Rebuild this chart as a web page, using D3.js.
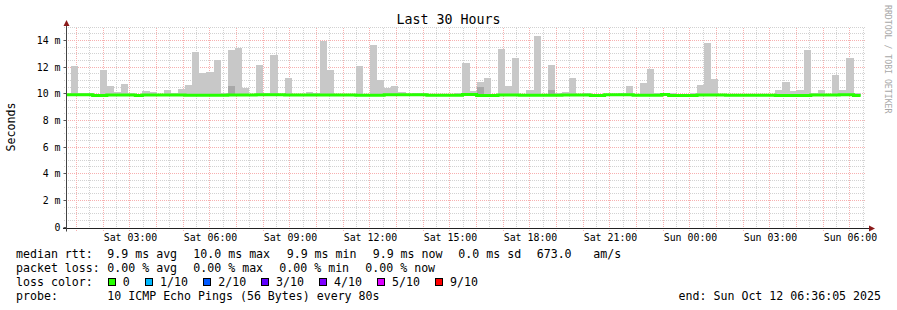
<!DOCTYPE html>
<html>
<head>
<meta charset="utf-8">
<script src="https://cdn.jsdelivr.net/npm/d3@7"></script>
<style>
  body { margin: 0; background: #fff; }
  svg { display: block; font-family: "DejaVu Sans Mono", monospace; }
</style>
</head>
<body>
<div id="chart"></div>
<script>
// 16 minute consolidated steps, first one starts before the graph window
const stepMinutes = 16;
const firstStep = new Date(2025, 9, 11, 0, 32, 0);
const startTime = new Date(2025, 9, 11, 0, 36, 5);
const endTime = new Date(2025, 9, 12, 6, 36, 5);

// top of the smoke per step (ms)
const smokeMax = [
  10.0, 12.08, 10.05, 10.05, 10.0, 11.78, 10.58, 10.13, 10.73, 10.05,
  10.0, 10.2, 10.13, 10.0, 10.28, 10.05, 10.35, 10.65, 13.13, 11.53,
  11.6, 12.53, 10.03, 13.28, 13.43, 10.43, 10.0, 12.15, 10.03, 12.93,
  10.0, 11.18, 10.0, 10.0, 10.13, 10.05, 13.98, 11.78, 10.0, 10.0,
  10.0, 12.08, 10.0, 13.68, 11.03, 10.43, 10.58, 10.13, 10.0, 10.05,
  10.05, 10.0, 10.0, 10.0, 10.0, 10.05, 12.33, 10.2, 10.88, 11.18,
  10.0, 13.35, 10.58, 12.68, 10.0, 10.28, 14.33, 10.0, 12.15, 10.05,
  10.13, 11.18, 10.0, 10.05, 10.0, 10.0, 10.0, 10.0, 10.05, 10.58,
  10.0, 10.8, 11.85, 10.05, 10.0, 10.05, 10.0, 10.0, 10.05, 10.65,
  13.8, 11.1, 10.0, 10.0, 10.0, 10.0, 10.0, 10.0, 10.0, 10.0,
  10.28, 10.88, 10.2, 10.28, 13.28, 10.05, 10.28, 10.0, 11.4, 10.28,
  12.68, 10.05
];

// median rtt per step (ms)
const medianRtt = [
  9.92, 9.92, 9.92, 9.92, 9.87, 9.87, 9.9, 9.9, 9.9, 9.9,
  9.87, 9.9, 9.9, 9.9, 9.9, 9.9, 9.9, 9.88, 9.88, 9.88,
  9.88, 9.88, 9.88, 9.9, 9.9, 9.9, 9.9, 9.92, 9.92, 9.92,
  9.92, 9.9, 9.9, 9.9, 9.9, 9.9, 9.9, 9.9, 9.9, 9.9,
  9.9, 9.88, 9.88, 9.88, 9.88, 9.91, 9.91, 9.91, 9.91, 9.91,
  9.91, 9.89, 9.89, 9.89, 9.89, 9.89, 9.93, 9.93, 9.87, 9.87,
  9.87, 9.9, 9.9, 9.9, 9.88, 9.88, 9.88, 9.88, 9.88, 9.88,
  9.9, 9.9, 9.9, 9.9, 9.87, 9.87, 9.91, 9.91, 9.91, 9.91,
  9.88, 9.88, 9.88, 9.88, 9.94, 9.87, 9.87, 9.87, 9.87, 9.9,
  9.9, 9.9, 9.9, 9.89, 9.89, 9.89, 9.89, 9.89, 9.89, 9.89,
  9.87, 9.87, 9.87, 9.87, 9.87, 9.9, 9.9, 9.9, 9.9, 9.92,
  9.92, 9.86
];

// darker inner smoke band: [step, from, to]
const darkSmoke = [[23, 10.0, 10.58], [58, 10.0, 10.5], [68, 10.0, 10.28]];

const yTickValues = [0, 2, 4, 6, 8, 10, 12, 14];

const legendRtt = ['9.9 ms avg', '10.0 ms max', '9.9 ms min', '9.9 ms now', '0.0 ms sd', '673.0', 'am/s'];
const legendLoss = ['0.00 % avg', '0.00 % max', '0.00 % min', '0.00 % now'];
const lossLabels = ['0', '1/10', '2/10', '3/10', '4/10', '5/10', '9/10'];
const lossColors = ['#26ff00', '#00b8ff', '#0059ff', '#5e00ff', '#7e00ff', '#dd00ff', '#ff0000'];
const probeText = '10 ICMP Echo Pings (56 Bytes) every 80s';
const endText = 'end: Sun Oct 12 06:36:05 2025';

const W = 897, H = 310;
const pL = 66, pR = 866, pT = 27, pB = 227;

const svg = d3.select('#chart').append('svg')
              .attr('width', W)
              .attr('height', H);

svg.append('rect').attr('width', W).attr('height', H).attr('fill', '#fff');

const x = d3.scaleTime().domain([startTime, endTime]).range([pL, pR]);
const y = d3.scaleLinear().domain([0, 15]).range([pB, pT]);

const px = v => Math.floor(v) + 0.5;
const pix = v => Math.floor(v);

// dotted grid patterns (1px on, 1px off)
const defs = svg.append('defs');
function dotPattern(id, horizontal, color) {
    defs.append('pattern')
        .attr('id', id)
        .attr('patternUnits', 'userSpaceOnUse')
        .attr('width', horizontal ? 2 : 1)
        .attr('height', horizontal ? 1 : 2)
        .append('rect').attr('width', 1).attr('height', 1).attr('fill', color);
}
dotPattern('hMinor', true, '#d2d2d2');
dotPattern('vMinor', false, '#d2d2d2');
dotPattern('hMajor', true, '#f7b0b0');
dotPattern('vMajor', false, '#f7b0b0');

// grid (minor lines skip the positions of the major ones)
const grid = svg.append('g').attr('shape-rendering', 'crispEdges');
const minorX = x.ticks(d3.timeMinute.every(30)).filter(d => d.getMinutes() !== 0);
const majorX = x.ticks(d3.timeHour.every(1));
const minorY = d3.range(0.5, 15.01, 0.5).filter(v => v % 2 !== 0);
const majorY = d3.range(2, 15, 2);

grid.selectAll('rect.mx').data(minorX).enter().append('rect')
    .attr('x', d => pix(x(d))).attr('width', 1)
    .attr('y', pT).attr('height', pB - pT + 3)
    .attr('fill', 'url(#vMinor)');

grid.selectAll('rect.my').data(minorY).enter().append('rect')
    .attr('x', pL - 2).attr('width', pR - pL + 2)
    .attr('y', d => pix(y(d))).attr('height', 1)
    .attr('fill', 'url(#hMinor)');

grid.selectAll('rect.Mx').data(majorX).enter().append('rect')
    .attr('x', d => pix(x(d))).attr('width', 1)
    .attr('y', pT).attr('height', pB - pT + 4)
    .attr('fill', 'url(#vMajor)');

grid.selectAll('rect.My').data(majorY).enter().append('rect')
    .attr('x', pL - 3).attr('width', pR - pL + 3)
    .attr('y', d => pix(y(d))).attr('height', 1)
    .attr('fill', 'url(#hMajor)');

// smoke + median
const stepStart = i => d3.timeMinute.offset(firstStep, i * stepMinutes);
svg.append('clipPath').attr('id', 'clip')
   .append('rect').attr('x', pL + 1).attr('y', pT - 5)
   .attr('width', pR - pL).attr('height', pB - pT + 10);
const plot = svg.append('g').attr('clip-path', 'url(#clip)');

plot.selectAll('rect.smoke').data(smokeMax).enter().append('rect')
    .attr('x', (d, i) => x(stepStart(i)))
    .attr('width', (d, i) => x(stepStart(i + 1)) - x(stepStart(i)))
    .attr('y', d => y(d))
    .attr('height', (d, i) => Math.max(0, y(medianRtt[i]) - y(d)))
    .attr('fill', '#c8c8c8')
    .attr('shape-rendering', 'crispEdges');

plot.selectAll('rect.dark').data(darkSmoke).enter().append('rect')
    .attr('x', d => x(stepStart(d[0])))
    .attr('width', d => x(stepStart(d[0] + 1)) - x(stepStart(d[0])))
    .attr('y', d => y(d[2]))
    .attr('height', d => y(d[1]) - y(d[2]))
    .attr('fill', '#a8a8a8')
    .attr('shape-rendering', 'crispEdges');

const medPts = medianRtt.map((v, i) => [stepStart(i), v]);
medPts.push([stepStart(medianRtt.length), medianRtt[medianRtt.length - 1]]);

plot.append('path')
    .datum(medPts)
    .attr('fill', 'none')
    .attr('stroke', lossColors[0])
    .attr('stroke-width', 3)
    .attr('d', d3.line().x(d => x(d[0])).y(d => y(d[1])).curve(d3.curveStepAfter));

// axes
const axisY = px(pB) + 1;
svg.append('line')
   .attr('x1', pL - 3).attr('x2', pR + 4)
   .attr('y1', axisY).attr('y2', axisY)
   .attr('stroke', '#222');
svg.append('line')
   .attr('x1', px(pL)).attr('x2', px(pL))
   .attr('y1', axisY + 3).attr('y2', pT - 4)
   .attr('stroke', '#444');
svg.append('path')
   .attr('d', `M${pR + 9},${axisY} L${pR + 3},${axisY - 3} L${pR + 3},${axisY + 3} Z`)
   .attr('fill', '#8b1a1a');
svg.append('path')
   .attr('d', `M${px(pL)},${pT - 7} L${px(pL) - 3},${pT - 1} L${px(pL) + 3},${pT - 1} Z`)
   .attr('fill', '#8b1a1a');

const yAxis = svg.append('g')
    .attr('transform', `translate(${px(pL)},0)`)
    .call(d3.axisLeft(y).tickValues(yTickValues).tickSize(3).tickPadding(3)
            .tickFormat(v => v === 0 ? '0' : v + ' m'));
yAxis.select('.domain').remove();
yAxis.selectAll('line').attr('stroke', '#555');
yAxis.selectAll('.tick').attr('transform', d => `translate(0,${px(y(d))})`);
yAxis.selectAll('text')
     .attr('font-family', '"DejaVu Sans Mono", monospace')
     .attr('font-size', '9.9px')
     .attr('fill', '#000');

const xAxis = svg.append('g')
    .attr('transform', `translate(0,${axisY})`)
    .call(d3.axisBottom(x).ticks(d3.timeHour.every(3)).tickSize(0)
            .tickFormat(d3.timeFormat('%a %H:%M')));
xAxis.select('.domain').remove();
xAxis.selectAll('text')
     .attr('dy', null)
     .attr('y', 12.5)
     .attr('font-family', '"DejaVu Sans Mono", monospace')
     .attr('font-size', '9.9px')
     .attr('fill', '#000');

// title, axis title, watermark
svg.append('text')
   .attr('x', 448.5).attr('y', 24)
   .attr('text-anchor', 'middle')
   .attr('font-size', '13.3px')
   .text('Last 30 Hours');

svg.append('text')
   .attr('transform', 'translate(14.5,127) rotate(-90)')
   .attr('text-anchor', 'middle')
   .attr('font-size', '11.6px')
   .text('Seconds');

svg.append('text')
   .attr('transform', 'translate(884.5,5) rotate(90)')
   .attr('font-size', '8.2px')
   .attr('fill', '#a8a8a8')
   .text('RRDTOOL / TOBI OETIKER');

// legend
const legend = svg.append('g').attr('font-size', '11.6px').attr('fill', '#000');
const row = [258.3, 272.3, 286.3, 300.3];
const addText = (tx, ty, s, anchor) => legend.append('text')
    .attr('x', tx).attr('y', ty)
    .attr('text-anchor', anchor || 'start')
    .text(s);

addText(16, row[0], 'median rtt:');
[107.3, 193.3, 286.7, 372.7, 458.3, 536.7, 593.3].forEach((lx, i) => addText(lx, row[0], legendRtt[i]));

addText(16, row[1], 'packet loss:');
[107.3, 193.3, 279.3, 365.3].forEach((lx, i) => addText(lx, row[1], legendLoss[i]));

addText(16, row[2], 'loss color:');
const swatchX = [108.5, 145.5, 203.5, 261.5, 319.5, 377.5, 435.5];
const swatchLabelX = [122.7, 160, 218.3, 276, 334, 392, 450];
lossLabels.forEach((lab, i) => {
    legend.append('rect')
          .attr('x', swatchX[i]).attr('y', 278.5)
          .attr('width', 7).attr('height', 7)
          .attr('fill', lossColors[i])
          .attr('stroke', '#000');
    addText(swatchLabelX[i], row[2], lab);
});

addText(16, row[3], 'probe:');
addText(107.3, row[3], probeText);
addText(881, row[3], endText, 'end');
</script>
</body>
</html>
